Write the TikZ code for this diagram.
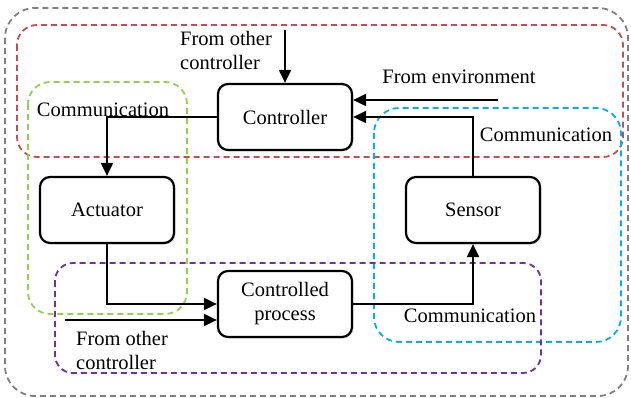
\documentclass[tikz,border=0pt]{standalone}
\usepackage{fontspec}
\setmainfont{Liberation Serif}
\usetikzlibrary{arrows.meta,shadows}
\definecolor{cgray}{RGB}{128,128,128}
\definecolor{cred}{RGB}{192,80,77}
\definecolor{cgreen}{RGB}{146,208,80}
\definecolor{cblue}{RGB}{0,176,240}
\definecolor{cpurple}{RGB}{112,48,160}
\begin{document}
\begin{tikzpicture}[x=1pt,y=-1pt,
  blockbox/.style={draw=black, line width=2.2pt, rounded corners=10pt, fill=white,
    minimum width=134pt, minimum height=66pt, align=center, inner sep=2pt,
    drop shadow={opacity=0.25, shadow xshift=1.5pt, shadow yshift=-1.5pt}},
  region/.style={line width=1.8pt, dash pattern=on 6pt off 4pt},
  arr/.style={line width=2pt, -{Triangle[length=13pt,width=12pt]}},
  lbl/.style={inner sep=0pt, align=left},
  every node/.style={font=\fontsize{20.5}{24}\selectfont}]
\useasboundingbox (0,0) rectangle (631,398);
% dashed regions
\draw[region, cgray, rounded corners=30pt] (5,8) rectangle (628,396);
\draw[region, cred, rounded corners=20pt] (17,25) rectangle (623,157);
\draw[region, cgreen, rounded corners=22pt] (28,82) rectangle (187,314);
\draw[region, cblue, rounded corners=25pt] (374,108) rectangle (621,342);
\draw[region, cpurple, rounded corners=18pt] (55,263) rectangle (541,373);
% blocks
\node[blockbox] (ctrl) at (285,117) {Controller};
\node[blockbox] (act) at (107,210) {Actuator};
\node[blockbox] (sens) at (473,210) {Sensor};
\node[blockbox] (proc) at (285,304) {Controlled\\process};
% free ends
\coordinate (fo1) at (285,30);
\coordinate (env) at (498,100);
\coordinate (fo2) at (65,320);
% connectors
\draw[arr] (fo1) -- (ctrl.north);
\draw[arr] (env) -- (env -| ctrl.east);
\draw[arr] (sens.north) |- (ctrl.east);
\draw[arr] (ctrl.west) -| (act.north);
\draw[arr] (act.south) |- (proc.west);
\draw[arr] (fo2) -- (fo2 -| proc.west);
\draw[arr] (proc.east) -| (sens.south);
% labels
\node[lbl, anchor=west] (lfo1) at (180,50) {From other\\controller};
\node[lbl] (lenv) at (459,77) {From environment};
\node[lbl] (lcg) at (103,110) {Communication};
\node[lbl] (lcb) at (546,135) {Communication};
\node[lbl] (lcp) at (470,316) {Communication};
\node[lbl, anchor=west] (lfo2) at (76,350) {From other\\controller};
\end{tikzpicture}
\end{document}
